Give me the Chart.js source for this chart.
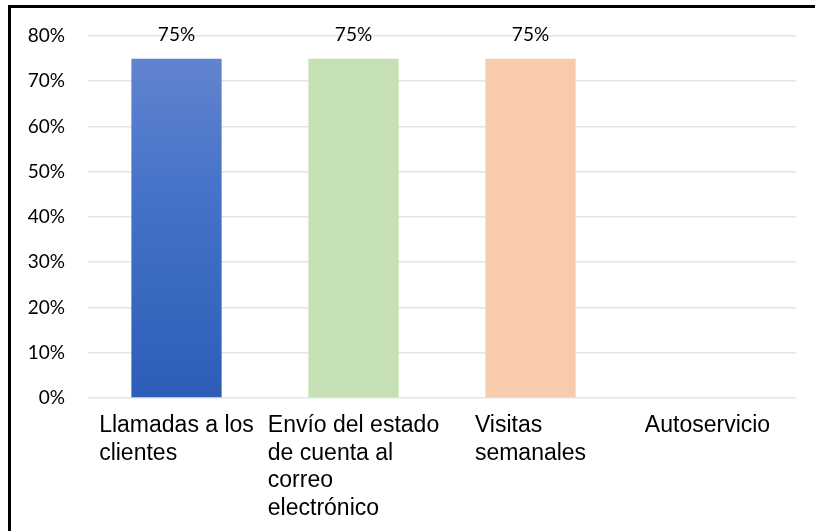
<!DOCTYPE html>
<html lang="es">
<head>
<meta charset="utf-8">
<title>Canales de cobranza</title>
<script src="https://cdn.jsdelivr.net/npm/chart.js@4"></script>
<style>
  html, body { margin: 0; padding: 0; background: #fff; overflow: hidden; }
  #frame {
    position: absolute; left: 8px; top: 5px; width: 900px; height: 600px;
    border-left: 3px solid #000; border-top: 3px solid #000;
  }
  #wrap { position: absolute; left: 0; top: 0; width: 815px; height: 531px; }
</style>
</head>
<body>
<div id="frame"></div>
<div id="wrap"><canvas id="chart"></canvas></div>
<script>
// categories split into the lines they wrap to under each bar
const categories = [
  ['Llamadas a los', 'clientes'],
  ['Envío del estado', 'de cuenta al', 'correo', 'electrónico'],
  ['Visitas', 'semanales'],
  ['Autoservicio']
];
const values = [75, 75, 75, null];
const barColors = [null, '#c5e0b4', '#f8cbad', '#a5a5a5'];
const yTicks = [0, 10, 20, 30, 40, 50, 60, 70, 80];

const labelFont = '23px "Liberation Sans", Arial, sans-serif';
const numFont = { family: 'Lato, "Open Sans", sans-serif', size: 19 };

// blue bar fades from lighter at the top to darker at the base
function blueFill(ctx) {
  const area = ctx.chart.chartArea;
  if (!area) return '#4472c4';
  const g = ctx.chart.ctx.createLinearGradient(0, area.top, 0, area.bottom);
  g.addColorStop(0, '#6687d0');
  g.addColorStop(0.45, '#4472c8');
  g.addColorStop(1, '#2d5db8');
  return g;
}

// percent labels over each bar
const valueLabels = {
  id: 'valueLabels',
  afterDatasetsDraw(chart) {
    const { ctx } = chart;
    const meta = chart.getDatasetMeta(0);
    ctx.save();
    ctx.font = `${numFont.size}px ${numFont.family}`;
    ctx.fillStyle = '#000';
    ctx.textAlign = 'center';
    ctx.textBaseline = 'alphabetic';
    meta.data.forEach((bar, i) => {
      if (values[i] == null) return;
      ctx.fillText(values[i] + '%', bar.x, bar.y - 18);
    });
    ctx.restore();
  }
};

// category names: block centred under the bar, lines flush left
const categoryLabels = {
  id: 'categoryLabels',
  afterDraw(chart) {
    const { ctx } = chart;
    const x = chart.scales.x;
    const top = chart.chartArea.bottom;
    ctx.save();
    ctx.font = labelFont;
    ctx.fillStyle = '#000';
    ctx.textAlign = 'left';
    ctx.textBaseline = 'alphabetic';
    categories.forEach((lines, i) => {
      const cx = x.getPixelForValue(i);
      const w = Math.max(...lines.map(l => ctx.measureText(l).width));
      lines.forEach((line, j) => {
        ctx.fillText(line, cx - w / 2, top + 34 + j * 27.5);
      });
    });
    ctx.restore();
  }
};

new Chart(document.getElementById('chart'), {
  type: 'bar',
  data: {
    labels: categories.map(c => c.join(' ')),
    datasets: [{
      data: values,
      backgroundColor: (ctx) => ctx.dataIndex === 0 ? blueFill(ctx) : barColors[ctx.dataIndex],
      borderWidth: 0,
      categoryPercentage: 1,
      barPercentage: 0.51
    }]
  },
  options: {
    responsive: true,
    maintainAspectRatio: false,
    animation: false,
    layout: { padding: { top: 36, right: 19, left: 0, bottom: 0 } },
    plugins: {
      legend: { display: false },
      tooltip: { enabled: false }
    },
    scales: {
      x: {
        grid: { display: false },
        border: { display: false },
        ticks: { display: false },
        afterFit(scale) { scale.height = 133; }
      },
      y: {
        min: 0,
        max: 80,
        afterBuildTicks(scale) { scale.ticks = yTicks.map(v => ({ value: v })); },
        grid: { color: '#e1e4e9', lineWidth: 1.6, drawTicks: false },
        border: { display: false },
        ticks: {
          padding: 23,
          color: '#000',
          font: numFont,
          callback: (v) => v + '%'
        },
        afterFit(scale) { scale.width = 88; }
      }
    }
  },
  plugins: [valueLabels, categoryLabels]
});
</script>
</body>
</html>
